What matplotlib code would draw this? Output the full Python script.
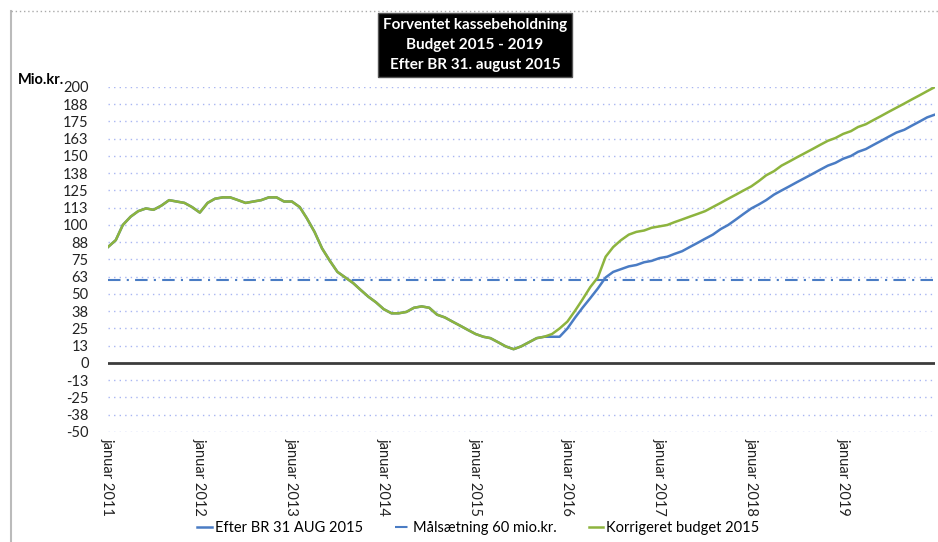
import matplotlib.pyplot as plt
import pandas as pd
from matplotlib.lines import Line2D

plt.rcParams['font.family'] = ['Lato', 'DejaVu Sans']

# monthly values, januar 2011 - januar 2020 (mio. kr.)
months = pd.date_range("2011-01-01", periods=109, freq="MS")

korrigeret = [
    84, 89, 100, 106, 110, 112, 111, 114, 118, 117, 116, 113,
    109, 116, 119, 120, 120, 118, 116, 117, 118, 120, 120, 117,
    117, 113, 105, 95, 83, 74, 66, 62, 58, 53, 48, 44,
    39, 36, 36, 37, 40, 41, 40, 35, 33, 30, 27, 24,
    21, 19, 18, 15, 12, 10, 12, 15, 18, 19, 21, 25,
    30, 38, 46, 55, 62, 77, 84, 89, 93, 95, 96, 98,
    99, 100, 102, 104, 106, 108, 110, 113, 116, 119, 122, 125,
    128, 132, 136, 139, 143, 146, 149, 152, 155, 158, 161, 163,
    166, 168, 171, 173, 176, 179, 182, 185, 188, 191, 194, 197,
    200,
]

efter_br = [
    84, 89, 100, 106, 110, 112, 111, 114, 118, 117, 116, 113,
    109, 116, 119, 120, 120, 118, 116, 117, 118, 120, 120, 117,
    117, 113, 105, 95, 83, 74, 66, 62, 58, 53, 48, 44,
    39, 36, 36, 37, 40, 41, 40, 35, 33, 30, 27, 24,
    21, 19, 18, 15, 12, 10, 12, 15, 18, 19, 19, 19,
    25, 33, 40, 47, 54, 62, 66, 68, 70, 71, 73, 74,
    76, 77, 79, 81, 84, 87, 90, 93, 97, 100, 104, 108,
    112, 115, 118, 122, 125, 128, 131, 134, 137, 140, 143, 145,
    148, 150, 153, 155, 158, 161, 164, 167, 169, 172, 175, 178,
    180,
]

maal = [60] * len(months)

y_ticks = [-50, -37.5, -25, -12.5, 0, 12.5, 25, 37.5, 50, 62.5, 75, 87.5,
           100, 112.5, 125, 137.5, 150, 162.5, 175, 187.5, 200]
y_labels = ["-50", "-38", "-25", "-13", "0", "13", "25", "38", "50", "63", "75", "88",
            "100", "113", "125", "138", "150", "163", "175", "188", "200"]
years = list(range(2011, 2020))

fig = plt.figure(figsize=(9.38, 5.42), dpi=100)
ax = fig.add_axes([0.1151, 0.2030, 0.8817, 0.6365])

# gridlines
for v in y_ticks:
    if v != 0:
        ax.axhline(v, color="#A9B6F2", linestyle=(0, (1, 3)), linewidth=1, zorder=1)
ax.axhline(0, color="#3C3C3C", linewidth=2, zorder=2)

ax.plot(months, efter_br, color="#4A7CC4", linewidth=1.8, zorder=3)
ax.plot(months, maal, color="#4A7CC4", linewidth=1.5, linestyle=(0, (6, 3, 1, 3)), zorder=3)
ax.plot(months, korrigeret, color="#8DB43E", linewidth=1.8, zorder=4)

ax.set_xlim(months[0], months[-1])
ax.set_ylim(-50, 200)
ax.set_yticks(y_ticks)
ax.set_yticklabels(y_labels, fontsize=10.5, color="#222222")
ax.set_xticks([pd.Timestamp(f"{y}-01-01") for y in years])
ax.set_xticklabels([f"januar {y}" for y in years], rotation=270, fontsize=10.5,
                   color="#222222", va="top", ha="center")
ax.tick_params(length=0, pad=14)
ax.tick_params(axis="x", pad=4)
for s in ax.spines.values():
    s.set_visible(False)

fig.text(0.019, 0.853, "Mio.kr.", fontsize=10.5, fontweight="bold", va="center", ha="left")

# title box
fig.text(0.5064, 0.917, "Forventet kassebeholdning\nBudget 2015 - 2019\nEfter BR 31. august 2015",
         color="white", fontsize=11, fontweight="bold", ha="center", va="center",
         linespacing=1.55,
         bbox=dict(boxstyle="square,pad=0.3", facecolor="black", edgecolor="#555555"))

# chart border
fig.add_artist(Line2D([0.0117, 0.0117], [0, 0.98], transform=fig.transFigure,
                      color="#BBBBBB", linewidth=1.5))
fig.add_artist(Line2D([0.0117, 1.0], [0.98, 0.98], transform=fig.transFigure,
                      color="#AAAAAA", linewidth=1, linestyle=(0, (1, 2))))

handles = [
    Line2D([], [], color="#4A7CC4", linewidth=1.8),
    Line2D([], [], color="#4A7CC4", linewidth=1.5, linestyle=(0, (6, 3, 1, 3))),
    Line2D([], [], color="#8DB43E", linewidth=1.8),
]
fig.legend(handles, ["Efter BR 31 AUG 2015", "Målsætning 60 mio.kr.", "Korrigeret budget 2015"],
           loc="center", bbox_to_anchor=(0.51, 0.025), ncol=3, frameon=False,
           fontsize=10.5, handlelength=1.0, handletextpad=0.2, columnspacing=2.2)

fig.savefig("out.png", dpi=100)
